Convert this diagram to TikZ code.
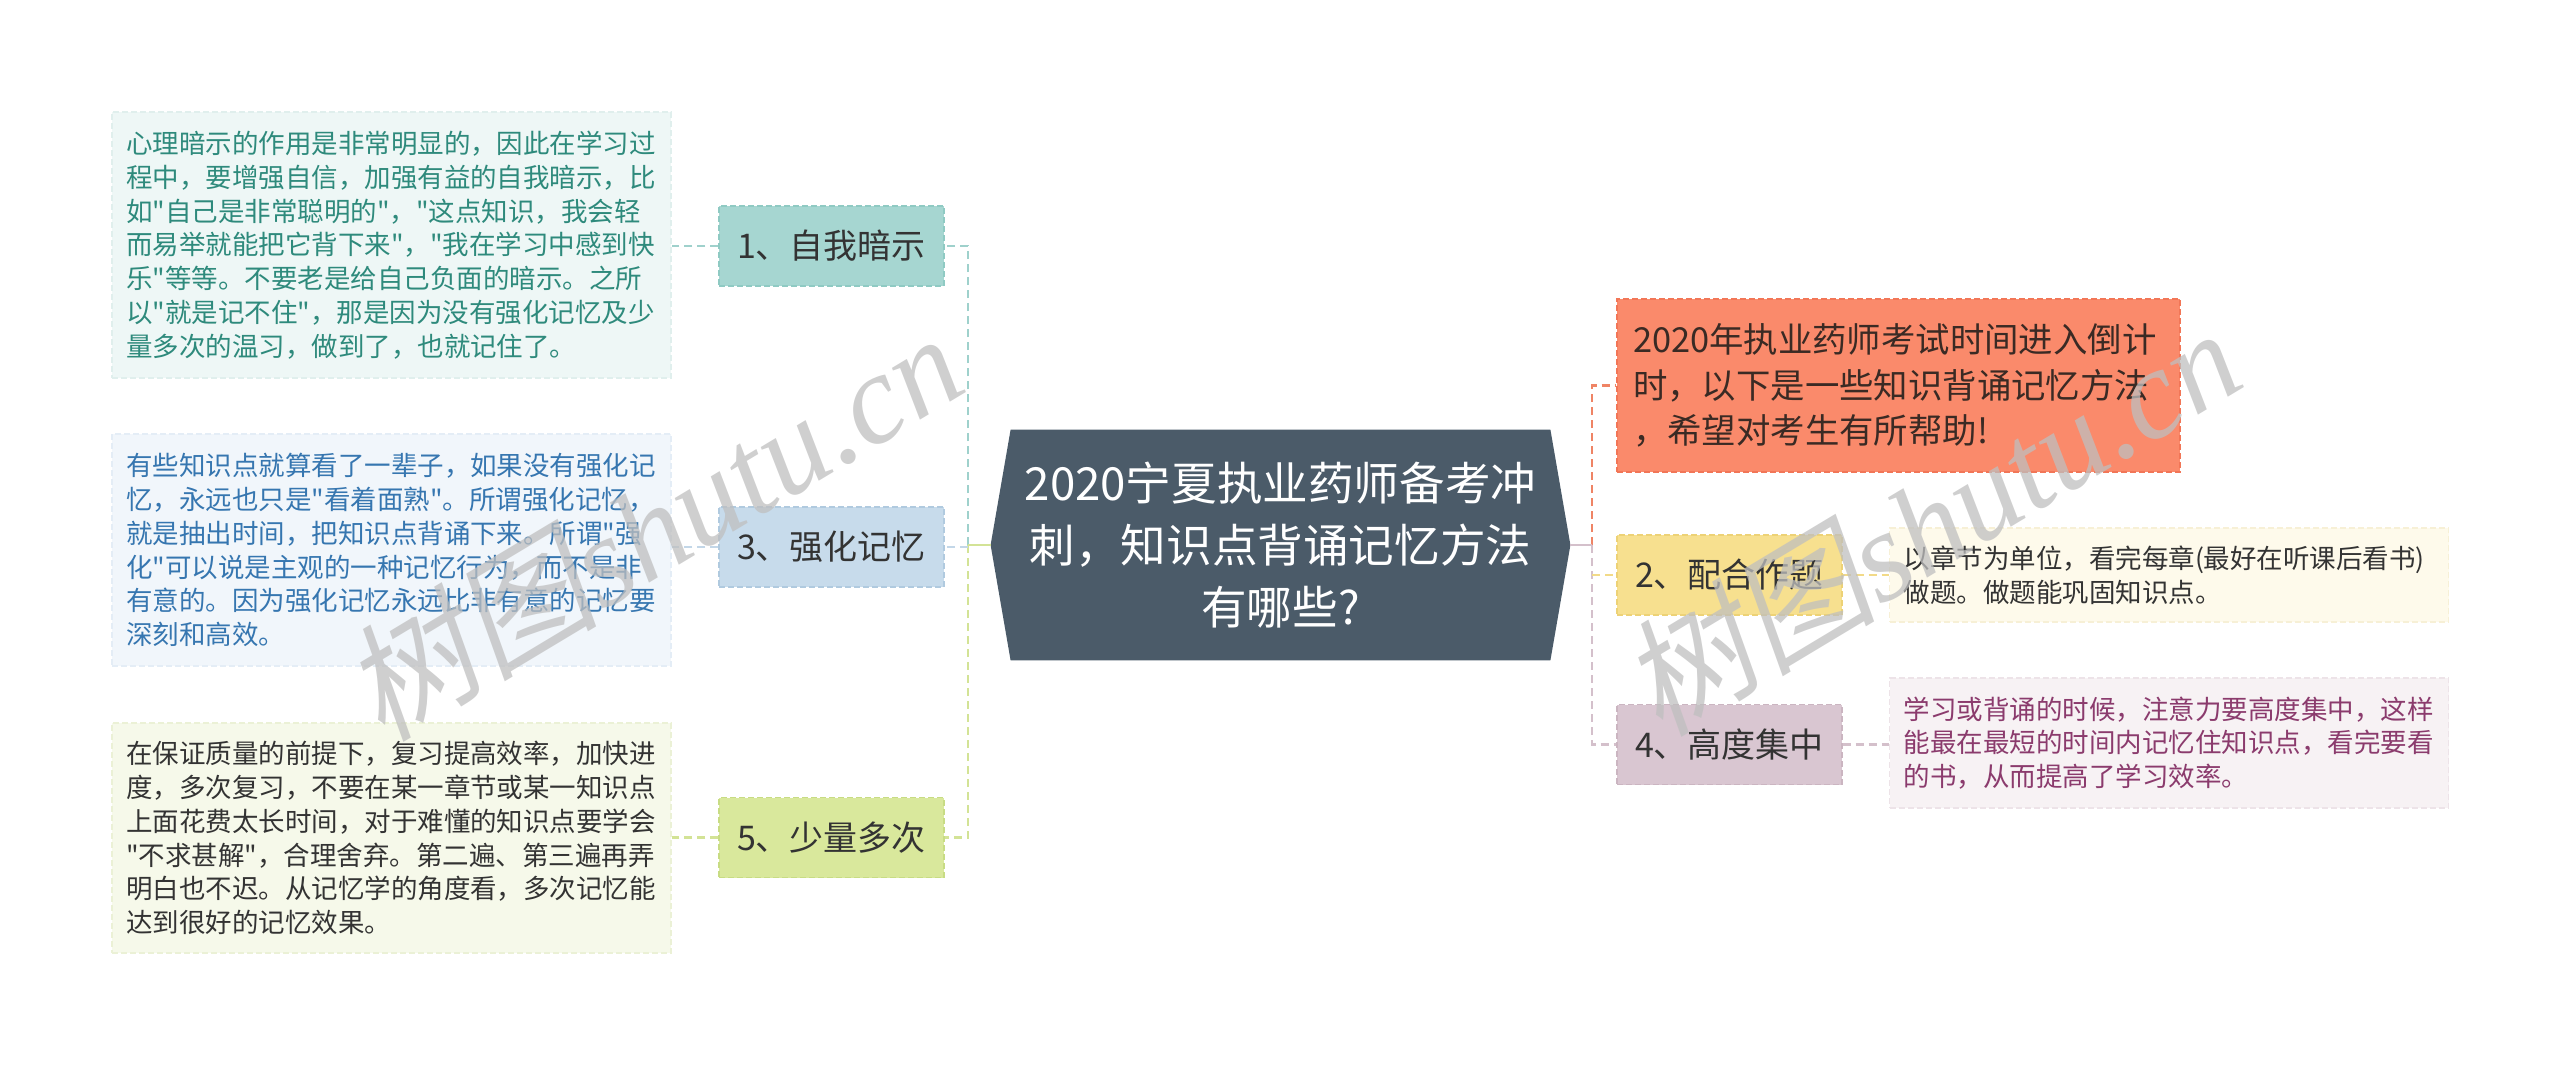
\documentclass[tikz,border=0pt]{standalone}
\usepackage{fontspec}
\setmainfont{Noto Sans CJK SC}
\newfontfamily\cjkmain{Noto Sans CJK SC}
\newfontfamily\wmlat{Liberation Serif}
\newfontfamily\wmcjk[FakeSlant=0.2]{Noto Sans CJK SC}
\usetikzlibrary{backgrounds,calc}
\definecolor{centfill}{HTML}{4B5B69}
\definecolor{txtdark}{HTML}{333333}
\definecolor{cteal}{HTML}{9FD1CC}
\definecolor{cblue}{HTML}{C3D7E8}
\definecolor{cgreen}{HTML}{D3E396}
\definecolor{corange}{HTML}{EF8465}
\definecolor{cyellow}{HTML}{F2DA88}
\definecolor{cmauve}{HTML}{D4C0CB}
\definecolor{fteal}{HTML}{A6D6D1}
\definecolor{bteal}{HTML}{8FCAC3}
\definecolor{fblue}{HTML}{C7DBEB}
\definecolor{bblue}{HTML}{B0CADF}
\definecolor{fgreen}{HTML}{D9E89C}
\definecolor{bgreen}{HTML}{C8DC84}
\definecolor{forange}{HTML}{FA8A6B}
\definecolor{borange}{HTML}{F27657}
\definecolor{fyellow}{HTML}{F7E08F}
\definecolor{byellow}{HTML}{EDD276}
\definecolor{fmauve}{HTML}{D9C6D1}
\definecolor{bmauve}{HTML}{CBB5C1}
\definecolor{dteal}{HTML}{EEF7F6}
\definecolor{dtealb}{HTML}{E0EFED}
\definecolor{dblue}{HTML}{F1F6FB}
\definecolor{dblueb}{HTML}{E4EDF6}
\definecolor{dgreen}{HTML}{F6F9EA}
\definecolor{dgreenb}{HTML}{EBF1D6}
\definecolor{dyellow}{HTML}{FEFAEB}
\definecolor{dyellowb}{HTML}{F7F0D6}
\definecolor{dmauve}{HTML}{F7F2F4}
\definecolor{dmauveb}{HTML}{EDE3E8}
\definecolor{tteal}{HTML}{2E8A7C}
\definecolor{tblue}{HTML}{3676B0}
\definecolor{tmauve}{HTML}{8B3B6D}
\definecolor{torange}{HTML}{3A2A24}
\begin{document}
\begin{tikzpicture}[x=0.5pt,y=-0.5pt,
  lbl/.style={rectangle, minimum width=112.5pt, minimum height=40pt, inner sep=0pt,
    font=\cjkmain\fontsize{17pt}{20pt}\selectfont, text=txtdark, line width=0.6pt,
    dash pattern=on 3pt off 1.5pt},
  detail/.style={rectangle, inner xsep=7pt, inner ysep=0pt, text width=265.5pt,
    align=left, font=\cjkmain\fontsize{13.25pt}{16.9pt}\selectfont, line width=0.6pt,
    dash pattern=on 3pt off 1.5pt},
  link/.style={line width=1.4pt, dash pattern=on 4pt off 2.5pt},
  wmark/.style={rotate=31, text=black!25, opacity=0.75, font=\fontsize{64pt}{64pt}\selectfont}
]
\useasboundingbox (0,0) rectangle (2560,1067);

% central node
\node[rectangle, minimum width=269.5pt, minimum height=115pt, inner sep=0pt,
  text=white, align=center, font=\cjkmain\fontsize{22.8pt}{31pt}\selectfont] (c) at (1280.5,545)
  {2020宁夏执业药师备考冲\\刺，知识点背诵记忆方法\\有哪些?};
\coordinate (cw) at ($(c.west)+(-20,0)$);
\coordinate (ce) at ($(c.east)+(20,0)$);
\begin{scope}[on background layer]
\fill[centfill] (c.north west) -- (c.north east) -- (ce) -- (c.south east)
  -- (c.south west) -- (cw) -- cycle;
\end{scope}

% left branch nodes
\node[lbl, fill=fteal, draw=bteal] (n1) at (831.5,246) {1、自我暗示};
\node[lbl, fill=fblue, draw=bblue] (n3) at (831.5,547) {3、强化记忆};
\node[lbl, fill=fgreen, draw=bgreen] (n5) at (831.5,837.5) {5、少量多次};

\node[detail, fill=dteal, draw=dtealb, text=tteal, minimum height=133pt] (d1) at (391.5,245)
{心理暗示的作用是非常明显的，因此在学习过\\
程中，要增强自信，加强有益的自我暗示，比\\
如"自己是非常聪明的"，"这点知识，我会轻\\
而易举就能把它背下来"，"我在学习中感到快\\
乐"等等。不要老是给自己负面的暗示。之所\\
以"就是记不住"，那是因为没有强化记忆及少\\
量多次的温习，做到了，也就记住了。};

\node[detail, fill=dblue, draw=dblueb, text=tblue, minimum height=116pt] (d3) at (391.5,550)
{有些知识点就算看了一辈子，如果没有强化记\\
忆，永远也只是"看着面熟"。所谓强化记忆，\\
就是抽出时间，把知识点背诵下来。所谓"强\\
化"可以说是主观的一种记忆行为，而不是非\\
有意的。因为强化记忆永远比非有意的记忆要\\
深刻和高效。};

\node[detail, fill=dgreen, draw=dgreenb, text=txtdark, minimum height=115pt] (d5) at (391.5,838)
{在保证质量的前提下，复习提高效率，加快进\\
度，多次复习，不要在某一章节或某一知识点\\
上面花费太长时间，对于难懂的知识点要学会\\
"不求甚解"，合理舍弃。第二遍、第三遍再弄\\
明白也不迟。从记忆学的角度看，多次记忆能\\
达到很好的记忆效果。};

% right branch nodes
\node[rectangle, minimum width=281.5pt, minimum height=86.5pt, inner xsep=8pt, inner ysep=0pt,
  text width=265.5pt, align=left, font=\cjkmain\fontsize{17.2pt}{22.9pt}\selectfont,
  fill=forange, draw=borange, line width=0.6pt, dash pattern=on 3pt off 1.5pt,
  text=torange] (o) at (1898.5,385.5)
{2020年执业药师考试时间进入倒计\\
时，以下是一些知识背诵记忆方法\\
，希望对考生有所帮助!};

\node[lbl, fill=fyellow, draw=byellow] (n2) at (1729.5,575) {2、配合作题};
\node[lbl, fill=fmauve, draw=bmauve] (n4) at (1729.5,744.5) {4、高度集中};

\node[detail, fill=dyellow, draw=dyellowb, text=txtdark, minimum height=47pt] (d2) at (2169,575)
{以章节为单位，看完每章(最好在听课后看书)\\
做题。做题能巩固知识点。};

\node[detail, fill=dmauve, draw=dmauveb, text=tmauve, minimum height=65pt] (d4) at (2169,743)
{学习或背诵的时候，注意力要高度集中，这样\\
能最在最短的时间内记忆住知识点，看完要看\\
的书，从而提高了学习效率。};

% connectors left
\coordinate (tl) at (968,545);
\draw[link, cteal] (tl) |- (n1.east);
\draw[link, cgreen] (tl) |- (n5.east);
\draw[link, cblue] (tl |- n3.east) -- (n3.east);
\draw[line width=1.4pt, cgreen] (cw) -- (tl);
\draw[link, cteal] (n1.west) -- (n1.west -| d1.east);
\draw[link, cblue] (n3.west) -- (n3.west -| d3.east);
\draw[link, cgreen] (n5.west) -- (n5.west -| d5.east);

% connectors right
\coordinate (tr) at (1592,545);
\draw[link, corange] (tr) |- (o.west);
\draw[link, cmauve] (tr) |- (n4.west);
\draw[link, cyellow] (tr |- n2.west) -- (n2.west);
\draw[line width=1.4pt, cmauve] (ce) -- (tr);
\draw[link, cyellow] (n2.east) -- (n2.east -| d2.west);
\draw[link, cmauve] (n4.east) -- (n4.east -| d4.west);

% watermarks
\node[wmark] (w1) at (652,525) {{\wmcjk 树图}{\wmlat\itshape shutu.cn}};
\node[wmark] (w2) at (1930,520) {{\wmcjk 树图}{\wmlat\itshape shutu.cn}};
\end{tikzpicture}
\end{document}
